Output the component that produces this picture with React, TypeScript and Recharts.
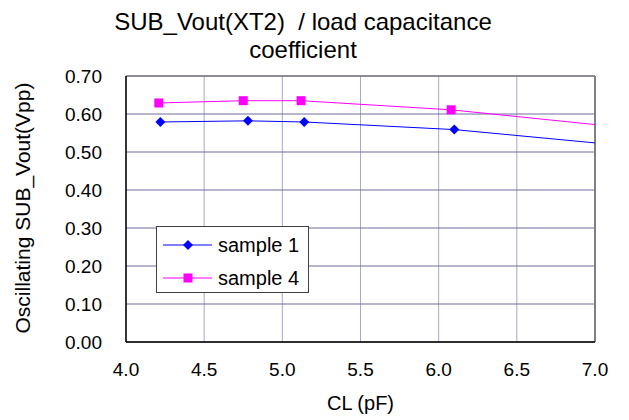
import { LineChart, Line, XAxis, YAxis, CartesianGrid, Legend, ReferenceLine } from 'recharts'

// CL (pF) and oscillating SUB_Vout (Vpp); last point lies past 7.0 and is clipped
const CL_SAMPLE1 = [4.22, 4.78, 5.14, 6.1, 8.0]
const VOUT_SAMPLE1 = [0.579, 0.582, 0.579, 0.559, 0.485]
const CL_SAMPLE4 = [4.21, 4.75, 5.12, 6.08, 8.0]
const VOUT_SAMPLE4 = [0.629, 0.635, 0.635, 0.611, 0.53]

const SERIES_NAMES = ['sample 1', 'sample 4']
const X_TICKS = [4, 4.5, 5, 5.5, 6, 6.5, 7]
const Y_TICKS = [0, 0.1, 0.2, 0.3, 0.4, 0.5, 0.6, 0.7]

const FONT = '"Liberation Sans", Arial, sans-serif'
const BLUE = '#0000FF'
const MAGENTA = '#FF00FF'

const sample1 = CL_SAMPLE1.map((x, i) => ({ x, y: VOUT_SAMPLE1[i] }))
const sample4 = CL_SAMPLE4.map((x, i) => ({ x, y: VOUT_SAMPLE4[i] }))

const Diamond = ({ cx, cy, r = 5, fill = BLUE }: any) =>
	cx == null ? <g /> : <path d={`M${cx},${cy - r}L${cx + r},${cy}L${cx},${cy + r}L${cx - r},${cy}Z`} fill={fill} />

const Square = ({ cx, cy, s = 9, fill = MAGENTA }: any) =>
	cx == null ? <g /> : <rect x={cx - s / 2} y={cy - s / 2} width={s} height={s} fill={fill} />

function LegendBox({ payload }: any) {
	const items = payload ?? []
	return (
		<div style={{ width: 153, height: 67, border: '1px solid #404040', background: '#fff', boxSizing: 'border-box' }}>
			<svg width={151} height={65} style={{ display: 'block' }}>
				{items.map((p: any, i: number) => {
					const cy = 18 + i * 33
					return (
						<g key={p.value}>
							<line x1={6} x2={55} y1={cy} y2={cy} stroke={p.color} strokeWidth={1} />
							{i === 0 ? <Diamond cx={31} cy={cy} r={5} fill={p.color} /> : <Square cx={31} cy={cy} s={9} fill={p.color} />}
							<text x={61} y={cy + 7} fontSize={20} fontFamily={FONT} fill="#000">
								{p.value}
							</text>
						</g>
					)
				})}
			</svg>
		</div>
	)
}

export default function App() {
	return (
		<div style={{ position: 'absolute', left: 0, top: 0, background: '#fff' }}>
			<LineChart width={629} height={420} margin={{ top: 76, right: 34, left: 0, bottom: 0 }}>
				<CartesianGrid horizontal={false} stroke="#a8a8cc" strokeWidth={1} />
				<CartesianGrid vertical={false} stroke="#6c6c9c" strokeWidth={1} />
				<XAxis
					dataKey="x"
					type="number"
					domain={[4, 7]}
					allowDataOverflow
					ticks={X_TICKS}
					tickFormatter={(v: number) => v.toFixed(1)}
					height={78}
					tickLine={false}
					tickSize={0}
					tickMargin={21}
					axisLine={{ stroke: '#000', strokeWidth: 1.5 }}
					tick={{ fill: '#000', fontSize: 19, fontFamily: FONT }}
					label={{ value: 'CL (pF)', position: 'insideBottom', offset: 10, fill: '#000', fontSize: 20, fontFamily: FONT }}
				/>
				<YAxis
					type="number"
					domain={[0, 0.7]}
					allowDataOverflow
					ticks={Y_TICKS}
					tickFormatter={(v: number) => v.toFixed(2)}
					width={126}
					tickLine={false}
					tickSize={0}
					tickMargin={24}
					axisLine={{ stroke: '#000', strokeWidth: 1.5 }}
					tick={{ fill: '#000', fontSize: 19, fontFamily: FONT }}
				/>
				<ReferenceLine x={7} stroke="#808080" strokeWidth={2} />
				<ReferenceLine y={0.7} stroke="#808080" strokeWidth={1.5} />
				<Line
					data={sample1}
					dataKey="y"
					name={SERIES_NAMES[0]}
					stroke={BLUE}
					strokeWidth={1}
					dot={(p: any) => <Diamond key={`d1-${p.index}`} cx={p.cx} cy={p.cy} r={5} fill={BLUE} />}
					activeDot={false}
					isAnimationActive={false}
				/>
				<Line
					data={sample4}
					dataKey="y"
					name={SERIES_NAMES[1]}
					stroke={MAGENTA}
					strokeWidth={1}
					dot={(p: any) => <Square key={`d4-${p.index}`} cx={p.cx} cy={p.cy} s={9} fill={MAGENTA} />}
					activeDot={false}
					isAnimationActive={false}
				/>
				<Legend
					layout="vertical"
					align="center"
					verticalAlign="middle"
					content={<LegendBox />}
					wrapperStyle={{ left: 156, top: 226, width: 153, height: 67 }}
				/>
				<text x={303} y={30} textAnchor="middle" fontSize={24} fontFamily={FONT} fill="#000" style={{ whiteSpace: 'pre' }}>
					{'SUB_Vout(XT2)  / load capacitance'}
				</text>
				<text x={303} y={58} textAnchor="middle" fontSize={24} fontFamily={FONT} fill="#000">
					coefficient
				</text>
				<text
					x={0}
					y={0}
					transform="translate(30,208) rotate(-90)"
					textAnchor="middle"
					fontSize={21}
					fontFamily={FONT}
					fill="#000"
				>
					Oscillating SUB_Vout(Vpp)
				</text>
			</LineChart>
		</div>
	)
}
